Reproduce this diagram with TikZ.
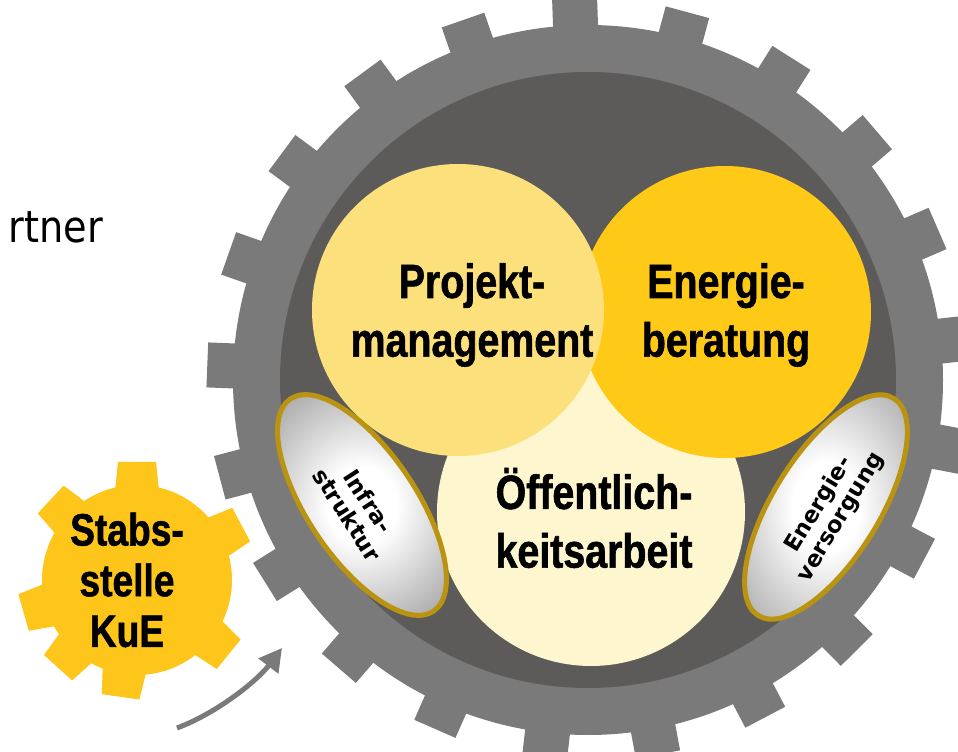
\documentclass[tikz,border=0pt]{standalone}
\usepackage{fontspec}
\usetikzlibrary{arrows.meta}
\newfontfamily\labelfont[FakeStretch=0.82,FakeBold=1.2]{Liberation Sans}
\newfontfamily\ovalfont{DejaVu Sans}
\newfontfamily\partfont[FakeStretch=0.87]{DejaVu Sans}
\definecolor{ovalmid}{RGB}{178,178,178}
\definecolor{ovalgray}{RGB}{150,150,150}
\pgfdeclareradialshading{ovalshading}{\pgfpoint{0bp}{0bp}}{color(0bp)=(white); color(9bp)=(white); color(30bp)=(ovalmid); color(50bp)=(ovalgray)}

\tikzset{every picture/.style={line width=0.75pt}}

\begin{document}
\begin{tikzpicture}[x=0.75pt,y=0.75pt,yscale=-1,xscale=1,
	ringgray/.style={fill={rgb, 255:red, 123; green, 122; blue, 122 }},
	innerdark/.style={fill={rgb, 255:red, 93; green, 91; blue, 90 }},
	lightyellow/.style={fill={rgb, 255:red, 252; green, 224; blue, 124 }},
	goldyellow/.style={fill={rgb, 255:red, 254; green, 201; blue, 23 }},
	cream/.style={fill={rgb, 255:red, 253; green, 246; blue, 206 }},
	gearyellow/.style={fill={rgb, 255:red, 254; green, 198; blue, 26 }},
	oval/.style={draw={rgb, 255:red, 186; green, 148; blue, 16 }, line width=3.75pt, shading=ovalshading},
	biglabel/.style={font=\labelfont\bfseries\fontsize{36}{44}\selectfont, align=center},
	gearlabel/.style={font=\labelfont\bfseries\fontsize{34}{38}\selectfont, align=center},
	ovallabel/.style={font=\ovalfont\bfseries\fontsize{17}{19}\selectfont, align=center}
]
	%Page with white background
	\fill[white] (0,0) rectangle (958,752);
	\useasboundingbox (0,0) rectangle (958,752);

	%Shape: Gear teeth (large gear)
	\foreach \k in {0,...,20}{
		\pgfmathsetmacro{\a}{-6.3-17.1429*\k}
		\fill[ringgray, shift={(588,380)}, rotate=\a] (335,-22.5) rectangle (381,22.5);
	}
	%Shape: Circle (gear ring)
	\fill[ringgray] (588,380) circle (355);
	%Shape: Circle (gear hub)
	\fill[innerdark] (588,380) circle (308);
	%Shape: Circle
	\fill[cream] (591,512) circle (154);
	%Shape: Circle
	\fill[goldyellow] (725,312) circle (146);
	%Shape: Circle
	\fill[lightyellow] (458,310) circle (146);

	%Shape: Ellipse
	\shadedraw[oval] (362,505) ellipse [x radius=128, y radius=54, rotate=56];
	%Shape: Ellipse
	\shadedraw[oval] (826,507) ellipse [x radius=128, y radius=53, rotate=-58];

	%Shape: Gear teeth (small gear)
	\foreach \a in {90,137,196,228,262,321,28}{
		\fill[gearyellow, shift={(137,580)}, rotate=-\a] (80,-23) -- (118,-19) -- (118,19) -- (80,23) -- cycle;
	}
	%Shape: Circle (small gear)
	\fill[gearyellow] (137,580) circle (95);

	%Curve Lines
	\coordinate (arrowtail) at (177,728);
	\coordinate (arrowtip) at (282,648);
	\draw[draw={rgb, 255:red, 123; green, 122; blue, 122 }, line width=3.75pt, -{Triangle[length=17pt,width=18pt]}] (arrowtail) .. controls (217,713) and (257,681) .. (arrowtip);

	% Text Node
	\node[anchor=base west, font=\partfont\fontsize{33}{40}\selectfont, inner sep=0pt] (partner) at (8,243) {rtner};
	% Text Node
	\node[biglabel] (projekt) at (472,315) {Projekt-\\management};
	% Text Node
	\node[biglabel] (beratung) at (726,315) {Energie-\\beratung};
	% Text Node
	\node[biglabel] (oeffentlich) at (594,518) {Öffentlich-\\keitsarbeit};
	% Text Node
	\node[gearlabel] (stabsstelle) at (127,580) {Stabs-\\stelle\\KuE};
	% Text Node
	\node[ovallabel, rotate=-57] (infra) at (358,508) {Infra-\\struktur};
	% Text Node
	\node[ovallabel, rotate=59] (versorgung) at (830,511) {Energie-\\versorgung};

\end{tikzpicture}
\end{document}
